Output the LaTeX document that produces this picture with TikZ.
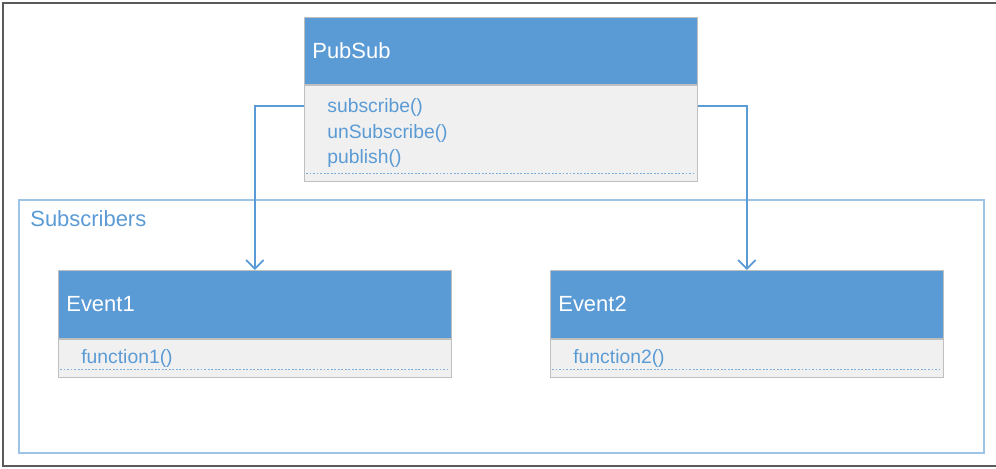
\documentclass[tikz,border=0pt]{standalone}
\usepackage{fontspec}
\setmainfont{Liberation Sans}
\usetikzlibrary{arrows.meta,positioning,calc}
\definecolor{hdblue}{HTML}{5B9BD5}
\definecolor{bodygray}{HTML}{F0F0F0}
\definecolor{edgegray}{HTML}{BFBFBF}
\definecolor{framegray}{HTML}{5A5A5A}
\definecolor{subsblue}{HTML}{9DC3E6}

\begin{document}
\begin{tikzpicture}[
			x=0.02cm, y=-0.02cm,
			header/.style={draw=edgegray, fill=hdblue, text=white, anchor=north west, minimum width=7.86cm, inner xsep=0.16cm, text width=7.54cm, align=left, font=\fontsize{12.5}{15}\selectfont},
			members/.style={draw=edgegray, fill=bodygray, text=hdblue, minimum width=7.86cm, inner xsep=0.46cm, text width=6.94cm, align=left, font=\fontsize{11}{14.7}\selectfont},
			divider/.style={draw=hdblue!80, line width=0.8pt, dash pattern=on 1.1pt off 0.9pt},
			link/.style={draw=hdblue, line width=1pt, -{Straight Barb[length=5pt,width=10pt]}},
			group/.style={draw=subsblue, line width=1pt, anchor=north west, minimum width=19.3cm, minimum height=5.06cm}
			]
			\useasboundingbox (0,0) rectangle (996,468);
			
			% Outer frame
			\draw[framegray, line width=1.6pt] (996,3) -- (3,3) -- (3,466) -- (996,466);
			
			% Subscribers group
			\node[group] (Subs) at (18,199) {};
			\node[anchor=west, inner sep=0pt, text=hdblue, font=\fontsize{12.5}{15}\selectfont] (SubsLabel) at (30,219) {Subscribers};
			
			% PubSub class
			\node[header, minimum height=1.34cm] (PS) at (304,17) {PubSub};
			\node[members, below=0pt of PS, minimum height=1.92cm] (PSbody) {subscribe()\\ unSubscribe()\\ publish()};
			\draw[divider] ($(PSbody.south west)+(2,-8)$) -- ($(PSbody.south east)+(-2,-8)$);
			
			% Event classes
			\node[header, minimum height=1.36cm] (E1) at (58,270) {Event1};
			\node[members, below=0pt of E1, minimum height=0.76cm] (E1body) {function1()};
			\draw[divider] ($(E1body.south west)+(2,-8)$) -- ($(E1body.south east)+(-2,-8)$);
			
			\node[header, minimum height=1.36cm] (E2) at (550,270) {Event2};
			\node[members, below=0pt of E2, minimum height=0.76cm] (E2body) {function2()};
			\draw[divider] ($(E2body.south west)+(2,-8)$) -- ($(E2body.south east)+(-2,-8)$);
			
			% Arrows
			\draw[link] ($(PSbody.north west)+(0,21)$) -| (E1.north);
			\draw[link] ($(PSbody.north east)+(0,21)$) -| (E2.north);
			
		\end{tikzpicture}
\end{document}
